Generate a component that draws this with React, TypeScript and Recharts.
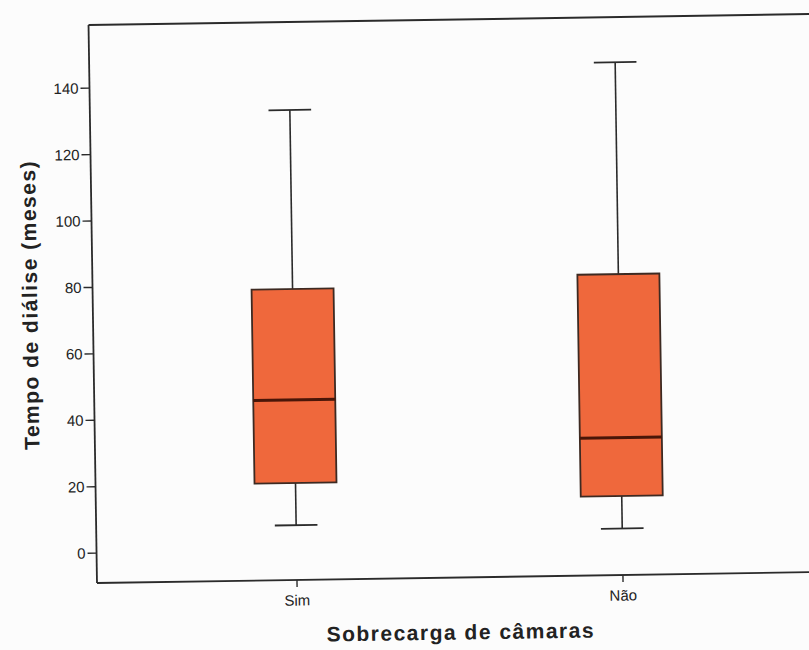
import React from "react"
import {
  ComposedChart,
  Bar,
  XAxis,
  YAxis,
  ReferenceLine
} from "recharts"

const categories = ["Sim", "Não"]
const mins = [7.5, 5.0]
const q1s = [20.2, 14.8]
const medians = [45.2, 32.4]
const q3s = [78.6, 81.6]
const maxs = [132.5, 145.4]
const yTicks = [0, 20, 40, 60, 80, 100, 120, 140]
const yDomain = [-9, 159]

const data = categories.map((name, i) => ({
  name,
  min: mins[i],
  q1: q1s[i],
  median: medians[i],
  q3: q3s[i],
  max: maxs[i],
  range: [mins[i], maxs[i]]
}))

const ink = "#2b2b2b"

function BoxShape(props: any) {
  const { x, y, width, height, payload } = props
  const top = Math.min(y, y + height)
  const span = Math.abs(height)
  const { min, q1, median, q3, max } = payload
  // map a value to pixels inside the min..max span the bar was given
  const px = (v: number) => top + (span * (max - v)) / (max - min)
  const cx = x + width / 2
  const cap = width * 0.26

  return (
    <g>
      <line x1={cx} x2={cx} y1={px(max)} y2={px(q3)} stroke={ink} strokeWidth={1.6} />
      <line x1={cx} x2={cx} y1={px(q1)} y2={px(min)} stroke={ink} strokeWidth={1.6} />
      <line x1={cx - cap} x2={cx + cap} y1={px(max)} y2={px(max)} stroke={ink} strokeWidth={1.8} />
      <line x1={cx - cap} x2={cx + cap} y1={px(min)} y2={px(min)} stroke={ink} strokeWidth={1.8} />
      <rect
        x={x}
        y={px(q3)}
        width={width}
        height={px(q1) - px(q3)}
        fill="#ef683c"
        stroke="#3d2a22"
        strokeWidth={1.8}
      />
      <line x1={x} x2={x + width} y1={px(median)} y2={px(median)} stroke="#4a1608" strokeWidth={3} />
    </g>
  )
}

export default function App() {
  return (
    <div
      style={{
        position: "absolute",
        left: 0,
        top: 0,
        width: 809,
        height: 650,
        overflow: "hidden",
        background: "#fcfcfc",
        fontFamily: "'Liberation Sans', Arial, sans-serif"
      }}
    >
      <div style={{ transform: "rotate(-0.87deg)", transformOrigin: "97px 583px" }}>
        <ComposedChart
          width={870}
          height={650}
          data={data}
          margin={{ top: 25, right: 47, left: 0, bottom: 0 }}
        >
          <XAxis
            dataKey="name"
            height={67}
            padding={{ left: 37, right: 37 }}
            tickSize={7}
            tickMargin={8}
            axisLine={{ stroke: ink, strokeWidth: 1.8 }}
            tickLine={{ stroke: ink, strokeWidth: 1.4 }}
            tick={{ fill: "#222", fontSize: 15 }}
            label={{
              value: "Sobrecarga de câmaras",
              position: "insideBottom",
              offset: 5,
              style: { fill: "#222", fontSize: 21, fontWeight: 700, letterSpacing: 1.5 }
            }}
          />
          <YAxis
            width={97}
            type="number"
            domain={yDomain}
            ticks={yTicks}
            allowDataOverflow
            tickSize={9}
            tickMargin={2}
            axisLine={{ stroke: ink, strokeWidth: 1.8 }}
            tickLine={{ stroke: ink, strokeWidth: 1.4 }}
            tick={{ fill: "#222", fontSize: 15 }}
            label={{
              value: "Tempo de diálise (meses)",
              angle: -90,
              position: "insideLeft",
              offset: 34,
              style: { fill: "#222", fontSize: 21, fontWeight: 700, letterSpacing: 1.5, textAnchor: "middle" }
            }}
          />
          {/* top edge of the plot frame */}
          <ReferenceLine y={yDomain[1]} stroke={ink} strokeWidth={2} ifOverflow="visible" />
          <Bar dataKey="range" barSize={82} shape={BoxShape} isAnimationActive={false} />
        </ComposedChart>
      </div>
    </div>
  )
}
